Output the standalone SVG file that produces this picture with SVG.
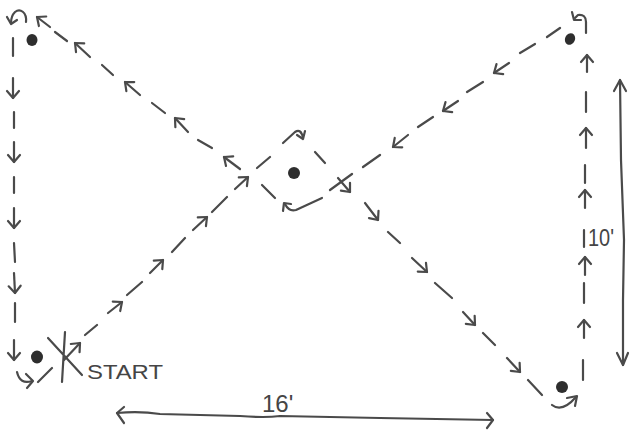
<svg xmlns="http://www.w3.org/2000/svg" width="631" height="432" viewBox="0 0 631 432">
<style>
.p{fill:none;stroke:#4a4a4a;stroke-width:2.2;stroke-linecap:round;stroke-linejoin:round}
.a{fill:none;stroke:#4a4a4a;stroke-width:2.2;stroke-linecap:round;marker-end:url(#ah)}
.dot{fill:#2e2e2e}
.t{font-family:"Liberation Sans",Arial,sans-serif;fill:#454545}
</style>
<defs>
<marker id="ah" viewBox="-10 -8 12 16" markerWidth="12" markerHeight="16" refX="0" refY="0" orient="auto" markerUnits="userSpaceOnUse" overflow="visible">
<path d="M-7,-6 L0,0 L-7,6" fill="none" stroke="#4a4a4a" stroke-width="2.2" stroke-linecap="round" stroke-linejoin="round"/>
</marker>
</defs>
<rect width="631" height="432" fill="#ffffff"/>

<g id="cone-top-left"><ellipse class="dot" cx="32" cy="40" rx="5.5" ry="6"/></g>
<g id="cone-top-right"><ellipse class="dot" cx="570" cy="39" rx="5" ry="6" transform="rotate(25 570 39)"/></g>
<g id="cone-center"><ellipse class="dot" cx="294" cy="173" rx="6" ry="6"/></g>
<g id="cone-bottom-left"><ellipse class="dot" cx="37" cy="357" rx="6" ry="6.5"/></g>
<g id="cone-bottom-right"><ellipse class="dot" cx="562" cy="387" rx="6" ry="6"/></g>

<g id="start-label">
<path class="p" d="M48,338 L82,375 M65,332 L62,382"/>
<text class="t" x="87" y="379" font-size="21" textLength="76" lengthAdjust="spacingAndGlyphs">START</text>
</g>

<g id="connectors">
<!-- left side, down -->
<path class="p" d="M13,38 L13,56 M14,112 L14,128 M14,177 L14,193 M14,243 L15,262 M15,303 L15,322"/>
<path class="a" d="M13,78 L13,98"/>
<path class="a" d="M14,142 L14,162"/>
<path class="a" d="M14,208 L14,228"/>
<path class="a" d="M14,273 L15,293"/>
<path class="a" d="M14,340 L14,360"/>
<!-- top-left curl -->
<path class="p" d="M26,22 C27,12 20,8 15,12 C12,15 11,18 11,23"/>
<path class="p" d="M7,17 L11,24 L17,20"/>
<!-- bottom-left curl -->
<path class="p" d="M17,372 Q20,385 32,381"/>
<path class="p" d="M26,374 L33,381 L27,388"/>

<!-- bottom-left to center, up-right -->
<path class="p" d="M38,382 L52,368 M85,335 L97,325 M127,295 L142,282 M172,252 L185,238 M212,212 L227,197 M257,168 L270,157"/>
<path class="a" d="M64,360 L80,343"/>
<path class="a" d="M108,313 L122,302"/>
<path class="a" d="M150,273 L163,260"/>
<path class="a" d="M193,230 L207,217"/>
<path class="a" d="M235,189 L248,177"/>

<!-- center diamond -->
<path class="p" d="M283,143 L295,132 Q301,128 303,138"/>
<path class="p" d="M297,135 L303,139 L305,131"/>
<path class="p" d="M315,152 L325,163"/>
<path class="a" d="M338,178 L350,192"/>
<path class="p" d="M322,198 L296,210 Q289,212 285,204"/>
<path class="p" d="M283,211 L284,203 L291,204"/>
<path class="p" d="M262,185 L275,198"/>

<!-- center to bottom-right, down-right -->
<path class="p" d="M388,232 L400,243 M435,283 L452,298 M483,333 L495,345 M528,380 L542,395"/>
<path class="a" d="M365,203 L378,220"/>
<path class="a" d="M412,258 L427,272"/>
<path class="a" d="M463,312 L475,325"/>
<path class="a" d="M507,358 L520,372"/>
<!-- bottom-right curl -->
<path class="p" d="M552,405 Q562,413 576,397"/>
<path class="p" d="M567,398 L577,396 L575,406"/>

<!-- right side, up -->
<path class="p" d="M586,92 L586,112 M585,165 L585,183 M584,230 L584,247 M584,283 L584,303 M583,360 L583,380"/>
<path class="a" d="M587,72 L587,55"/>
<path class="a" d="M586,148 L586,128"/>
<path class="a" d="M585,208 L585,190"/>
<path class="a" d="M585,275 L585,257"/>
<path class="a" d="M584,338 L584,320"/>
<!-- top-right curl -->
<path class="p" d="M586,33 L586,22 Q586,14 578,15 L575,18"/>
<path class="p" d="M572,12 L574,20 L581,20"/>

<!-- top-right to center, down-left -->
<path class="p" d="M560,28 L547,37 M535,44 L520,53 M483,82 L467,92 M433,117 L418,127 M380,155 L363,167 M352,174 L330,190"/>
<path class="a" d="M509,63 L494,73"/>
<path class="a" d="M458,101 L443,111"/>
<path class="a" d="M408,135 L393,147"/>

<!-- center to top-left, up-left -->
<path class="p" d="M55,32 L67,41 M102,65 L113,75 M152,103 L165,113 M198,140 L212,148"/>
<path class="a" d="M50,27 L37,17"/>
<path class="a" d="M90,57 L75,43"/>
<path class="a" d="M140,95 L125,82"/>
<path class="a" d="M188,132 L175,118"/>
<path class="a" d="M240,169 L224,157"/>
</g>

<g id="dimension-width">
<path class="p" d="M117,413 Q140,411 160,414 Q200,415 240,416 Q265,418 280,416 L380,418 L493,420"/>
<path class="p" d="M124,407 L117,413 L124,423"/>
<path class="p" d="M487,413 L493,420 L487,428"/>
<text class="t" x="262" y="412" font-size="24">16'</text>
</g>

<g id="dimension-height">
<path class="p" d="M620,80 L621,160 L624,240 L623,300 L623,365"/>
<path class="p" d="M614,91 L620,80 L626,91"/>
<path class="p" d="M617,353 L623,365 L628,353"/>
<text class="t" x="588" y="246" font-size="23" textLength="26" lengthAdjust="spacingAndGlyphs">10'</text>
</g>
</svg>
